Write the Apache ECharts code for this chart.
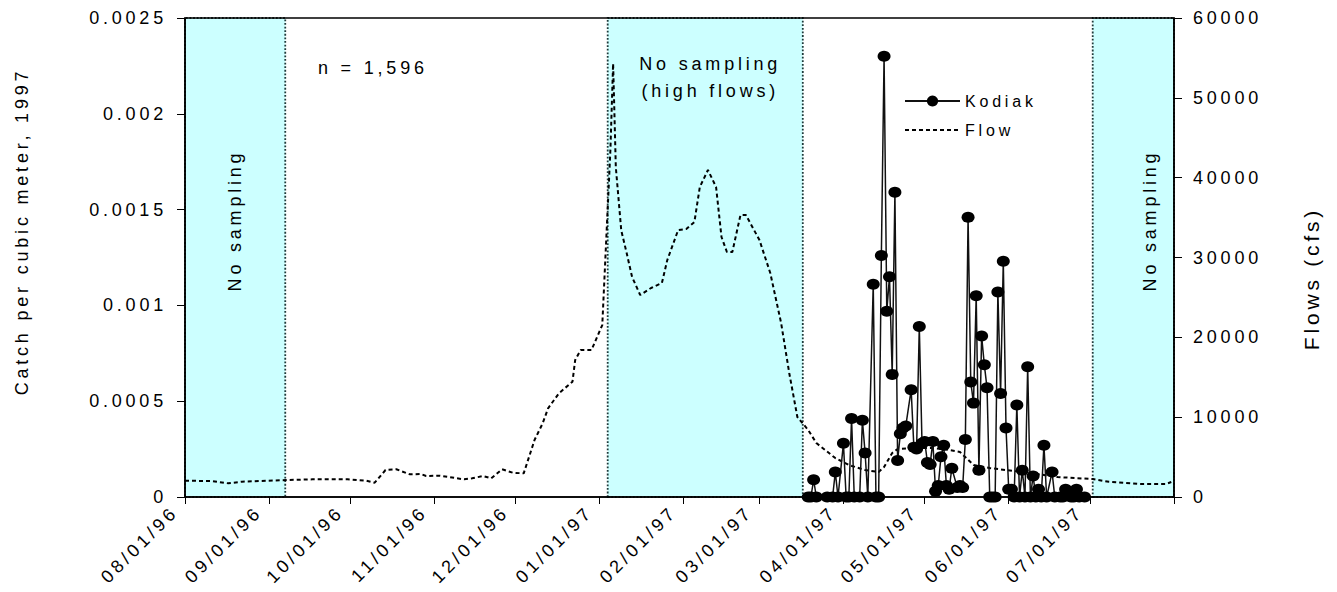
<!DOCTYPE html>
<html>
<head>
<meta charset="UTF-8">
<title>Kodiak catch and flows</title>
<script type="text/javascript" src="https://cdn.jsdelivr.net/npm/echarts@6.0.0/dist/echarts.min.js"></script>
<style>
  body{margin:0;background:#fff}
  #main text{letter-spacing:3.8px}
</style>
</head>
<body>
<div id="main" style="width:1337px;height:592px"></div>
<script type="text/javascript">
// daily flows (cfs)
var flowDates = ['1996-08-01','1996-08-11','1996-08-17','1996-08-22','1996-09-08','1996-09-17','1996-09-30',
  '1996-10-07','1996-10-10','1996-10-14','1996-10-18','1996-10-23','1996-10-27','1996-10-29',
  '1996-11-03','1996-11-12','1996-11-15','1996-11-19','1996-11-22','1996-11-26','1996-11-30',
  '1996-12-04','1996-12-06','1996-12-08','1996-12-11','1996-12-13','1996-12-17','1996-12-22','1996-12-23','1996-12-25','1996-12-29',
  '1997-01-02','1997-01-05','1997-01-06','1997-01-07','1997-01-09','1997-01-11','1997-01-13','1997-01-16','1997-01-20','1997-01-24','1997-01-26','1997-01-30',
  '1997-02-02','1997-02-05','1997-02-07','1997-02-10','1997-02-13','1997-02-15','1997-02-17','1997-02-19','1997-02-22','1997-02-24',
  '1997-03-01','1997-03-05','1997-03-09','1997-03-12','1997-03-15','1997-03-19','1997-03-22','1997-03-29',
  '1997-04-03','1997-04-09','1997-04-14','1997-04-16','1997-04-19','1997-04-21','1997-04-28',
  '1997-05-04','1997-05-10','1997-05-14','1997-05-19','1997-05-25','1997-05-31',
  '1997-06-09','1997-06-19',
  '1997-07-02','1997-07-08','1997-07-19','1997-07-29','1997-07-31'];
var flowCfs = [2040,2000,1710,1920,2130,2210,2210,
  2040,1790,3380,3470,2840,2880,2630,
  2670,2210,2340,2630,2340,3470,3040,
  2960,5050,7140,9230,11110,12990,14440,17160,18400,18400,
  21540,43500,54300,41300,33400,30560,27560,25300,26180,26800,29690,33440,
  33570,34450,38830,40960,38830,32570,30690,30690,35320,35320,
  32190,28060,21800,15530,10020,8390,6760,4880,
  4010,3380,3130,3760,5510,6010,6140,
  6140,5890,5640,4010,3630,3380,
  3000,2500,
  2250,1900,1630,1630,1880];

// Kodiak catch per cubic meter
var kodiakDates = ['1997-03-19','1997-03-20','1997-03-21','1997-03-22','1997-03-26','1997-03-28','1997-03-29','1997-03-30',
  '1997-04-01','1997-04-02','1997-04-03','1997-04-04','1997-04-05','1997-04-07','1997-04-08','1997-04-09','1997-04-10',
  '1997-04-12','1997-04-13','1997-04-14','1997-04-15','1997-04-16','1997-04-17','1997-04-18','1997-04-19','1997-04-20',
  '1997-04-21','1997-04-22','1997-04-23','1997-04-24','1997-04-26','1997-04-27','1997-04-28','1997-04-29','1997-04-30',
  '1997-05-01','1997-05-02','1997-05-03','1997-05-04','1997-05-05','1997-05-06','1997-05-07','1997-05-08','1997-05-09',
  '1997-05-10','1997-05-11','1997-05-13','1997-05-14','1997-05-15','1997-05-16','1997-05-17','1997-05-18','1997-05-19',
  '1997-05-20','1997-05-21','1997-05-22','1997-05-23','1997-05-24','1997-05-25','1997-05-26','1997-05-27','1997-05-28',
  '1997-05-29','1997-05-30','1997-05-31','1997-06-01','1997-06-02','1997-06-03','1997-06-04','1997-06-05','1997-06-06',
  '1997-06-07','1997-06-08','1997-06-09','1997-06-10','1997-06-11','1997-06-12','1997-06-13','1997-06-14','1997-06-15',
  '1997-06-17','1997-06-18','1997-06-20','1997-06-21','1997-06-22','1997-06-24','1997-06-25','1997-06-26','1997-06-27','1997-06-29'];
var kodiakCatch = [0,0,0.00009,0,0,0,0.00013,0,
  0.00028,0,0,0.00041,0,0,0.0004,0.00023,0,
  0.00111,0,0,0.00126,0.0023,0.00097,0.00115,0.00064,0.00159,
  0.00019,0.00033,0.00036,0.00037,0.00056,0.00026,0.00025,0.00089,0.00028,
  0.00029,0.00018,0.00017,0.00029,0.00003,0.00006,0.00021,0.00027,0.00006,
  0.00004,0.00015,0.00005,0.00006,0.00005,0.0003,0.00146,0.0006,0.00049,
  0.00105,0.00014,0.00084,0.00069,0.00057,0,0,0,0.00107,
  0.00054,0.00123,0.00036,0.00004,0.00004,0,0.00048,0,0.00014,
  0,0.00068,0,0.00011,0,0.00004,0,0.00027,0,
  0.00013,0,0,0,0.00004,0,0,0.00004,0,0];

// periods without sampling
var zoneStarts = ['1996-08-01','1997-01-04','1997-07-02'];
var zoneEnds = ['1996-09-07','1997-03-17','1997-08-01'];
var zoneNames = ['No sampling','No sampling\n(high flows)','No sampling'];

function pad(n) { return n < 10 ? '0' + n : '' + n; }
function fmtDate(v) {
  var d = new Date(v);
  if (d.getFullYear() === 1997 && d.getMonth() === 7) return '';
  return pad(d.getMonth() + 1) + '/' + pad(d.getDate()) + '/' + String(d.getFullYear()).slice(2);
}

var font = '"Liberation Sans", Arial, sans-serif';
// label offsets are in the label's own (rotated) frame
var zoneLabel = [
  {position: 'inside', rotate: 90, offset: [37, 0]},
  {position: 'insideTop', distance: 33, lineHeight: 27, offset: [5, 0]},
  {position: 'inside', rotate: 90, offset: [37, 17]}
];
var zones = zoneStarts.map(function (s, i) {
  var lab = Object.assign({show: true, color: '#000', fontSize: 18, fontFamily: font, formatter: '{b}'}, zoneLabel[i]);
  return [{xAxis: s, name: zoneNames[i], label: lab}, {xAxis: zoneEnds[i]}];
});

var myChart = echarts.init(document.getElementById('main'), null, {renderer: 'svg'});
var option = {
  animation: false,
  textStyle: {fontFamily: font, color: '#000'},
  title: {
    text: 'n = 1,596', left: 318, top: 59, padding: 0,
    textStyle: {fontSize: 18, fontWeight: 'normal', color: '#000', fontFamily: font}
  },
  legend: {
    data: ['Kodiak', {name: 'Flow', itemStyle: {opacity: 0}}],
    orient: 'vertical', left: 904, top: 93, padding: 0,
    itemWidth: 55, itemHeight: 14, itemGap: 13,
    textStyle: {fontSize: 16, color: '#000', fontFamily: font}
  },
  grid: {left: 185, right: 163, top: 18, bottom: 95, show: true, borderColor: '#000', borderWidth: 1.5, z: 5},
  xAxis: {
    type: 'time', z: 5,
    min: '1996-08-01', max: '1997-08-01', splitNumber: 12,
    axisLine: {lineStyle: {color: '#000', width: 1.5}},
    axisTick: {show: true, length: 7, lineStyle: {color: '#000'}},
    axisLabel: {rotate: 45, margin: 2, padding: [0, 14, 0, 0], fontSize: 18, color: '#000', fontFamily: font, formatter: fmtDate},
    splitLine: {show: false}
  },
  yAxis: [{
    type: 'value', z: 5, min: 0, max: 0.0025, interval: 0.0005,
    name: 'Catch per cubic meter, 1997', nameLocation: 'middle', nameGap: 154, nameRotate: 90,
    nameTextStyle: {fontSize: 18, color: '#000', padding: [0, 0, 0, 52]},
    axisLine: {show: true, lineStyle: {color: '#000', width: 1.5}},
    axisTick: {show: true, length: 8, lineStyle: {color: '#000'}},
    axisLabel: {margin: 18, fontSize: 18, color: '#000', formatter: function (v) { return String(v); }},
    splitLine: {show: false}
  }, {
    type: 'value', z: 5, min: 0, max: 60000, interval: 10000, position: 'right',
    name: 'Flows (cfs)', nameLocation: 'middle', nameGap: 127, nameRotate: 90,
    nameTextStyle: {fontSize: 21, color: '#000', padding: [0, 42, 0, 0]},
    axisLine: {show: true, lineStyle: {color: '#000', width: 1.5}},
    axisTick: {show: true, length: 8, lineStyle: {color: '#000'}},
    axisLabel: {margin: 19, fontSize: 18, color: '#000', formatter: function (v) { return String(v); }},
    splitLine: {show: false}
  }],
  series: [{
    name: 'zones', type: 'line', data: [], z: 1, silent: true,
    markArea: {
      silent: true,
      itemStyle: {color: '#ccffff', borderColor: '#1f3a3a', borderWidth: 1.8, borderType: 'dotted'},
      data: zones
    }
  }, {
    name: 'Flow', type: 'line', yAxisIndex: 1, z: 2,
    data: flowDates.map(function (d, i) { return [d, flowCfs[i]]; }),
    showSymbol: false, symbol: 'none',
    lineStyle: {color: '#000', width: 2, type: [4, 3]},
    itemStyle: {color: '#000'}
  }, {
    name: 'Kodiak', type: 'line', yAxisIndex: 0, z: 3,
    data: kodiakDates.map(function (d, i) { return [d, kodiakCatch[i]]; }),
    symbol: 'circle', symbolSize: [13, 11],
    lineStyle: {color: '#111', width: 1.5},
    itemStyle: {color: '#000'}
  }]
};
myChart.setOption(option);
</script>
</body>
</html>
